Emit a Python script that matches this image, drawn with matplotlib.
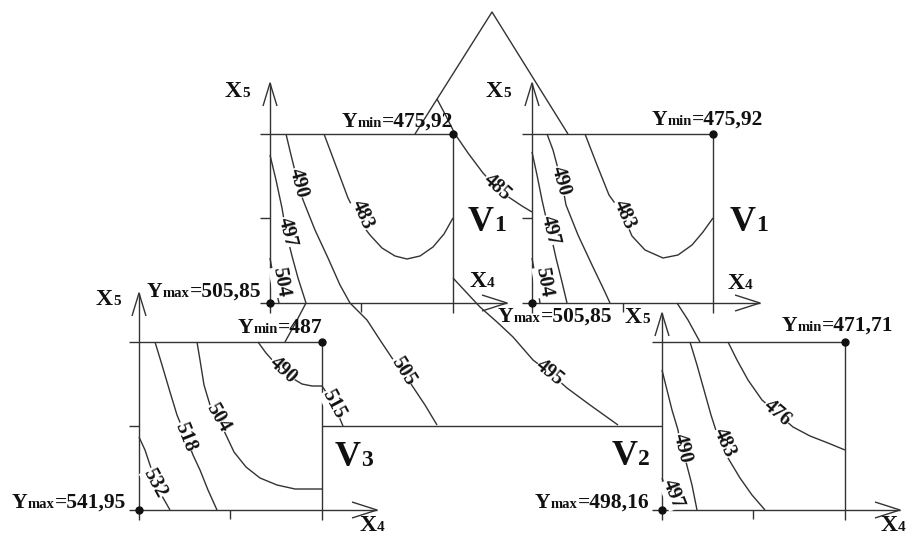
import matplotlib
matplotlib.use("Agg")
import matplotlib.pyplot as plt

# pixel-based coordinates (x right, y down)

# panel values
YMIN_TEXT = ["475,92", "475,92", "487", "471,71"]
YMAX_TEXT = ["505,85", "505,85", "541,95", "498,16"]
PANEL_NAMES = ["1", "1", "3", "2"]

# top-left panel (V1) contour lines
a504 = [(270, 258), (273, 275), (276, 290), (279, 303)]
a497 = [(270, 155), (276, 180), (282, 208), (286, 232), (292, 256), (298, 278),
        (306, 303), (296, 322), (285, 342)]
a490 = [(286, 134), (291, 155), (296, 175), (300, 192), (305, 205), (315, 230),
        (328, 258), (340, 285), (350, 303), (367, 320), (380, 340), (392, 358),
        (403, 372), (413, 387), (425, 405), (437, 425)]
a483 = [(324, 134), (336, 166), (348, 198), (360, 222), (370, 235), (382, 248),
        (395, 256), (407, 259), (420, 256), (433, 247), (444, 234), (453, 218)]
c485 = [(437, 99), (446, 116), (455, 134), (468, 153), (483, 173), (497, 188),
        (510, 198), (522, 206), (532, 212)]
c495 = [(453, 278), (466, 292), (480, 307), (497, 322), (513, 337), (533, 360),
        (550, 373), (567, 388), (590, 405), (618, 425)]

# top-right panel (V1)
b504 = [(532, 258), (535, 275), (538, 290), (540, 303)]
b497 = [(532, 152), (537, 175), (542, 200), (547, 222), (552, 240), (556, 258),
        (562, 282), (567, 303)]
b490 = [(547, 134), (553, 150), (557, 165), (562, 183), (566, 205), (578, 235),
        (592, 265), (604, 290), (610, 303)]
b483 = [(585, 134), (597, 165), (609, 195), (622, 213), (632, 236), (645, 250),
        (663, 258), (678, 255), (692, 245), (703, 232), (713, 218)]
b_link = [(677, 303), (688, 320), (700, 342)]

# bottom-left panel (V3)
v3_490 = [(258, 342), (266, 353), (274, 362), (282, 370), (292, 378), (302, 384),
          (312, 386), (322, 386)]
v3_515 = [(322, 386), (330, 398), (337, 412), (343, 426)]
v3_504 = [(197, 342), (200, 360), (204, 385), (210, 405), (218, 418), (226, 435),
          (234, 452), (246, 467), (260, 478), (277, 485), (295, 489), (322, 489)]
v3_518 = [(155, 342), (162, 365), (170, 392), (177, 415), (186, 437), (193, 455),
          (200, 470), (208, 490), (217, 510)]
v3_532 = [(139, 437), (145, 450), (150, 465), (156, 482), (162, 496), (170, 510)]

# bottom-right panel (V2)
v2_476 = [(728, 342), (737, 360), (748, 380), (762, 400), (777, 413), (793, 427),
          (810, 436), (828, 443), (845, 450)]
v2_483 = [(690, 342), (697, 365), (704, 390), (711, 415), (719, 440), (728, 458),
          (740, 478), (752, 495), (765, 510)]
v2_490 = [(662, 370), (667, 390), (672, 410), (678, 430), (681, 447), (686, 462),
          (692, 485), (697, 510)]
v2_497 = [(662, 478), (668, 494), (674, 510)]

# connecting lines
roof = [(415, 134), (492, 12), (568, 134)]
bridge = [(322, 426), (662, 426)]

FONT = "Liberation Serif"
LC = "#333333"
LW = 1.0

fig = plt.figure(figsize=(9.14, 5.37), dpi=100)
ax = fig.add_axes([0, 0, 1, 1])
ax.set_xlim(0, 914)
ax.set_ylim(537, 0)
ax.axis("off")
renderer = fig.canvas.get_renderer()


def line(pts, **kw):
    xs = [p[0] for p in pts]
    ys = [p[1] for p in pts]
    ax.plot(xs, ys, color=LC, lw=LW, solid_capstyle="butt", **kw)


def rich(x, y, parts):
    # pieces of text on one baseline, each with its own size
    for s, size in parts:
        t = ax.text(x, y, s, fontsize=size, fontweight="bold", family=FONT,
                    va="baseline", ha="left", color="#111111")
        x += t.get_window_extent(renderer=renderer).width


def clabel(x, y, s, rot):
    ax.text(x, y, s, fontsize=14.5, fontweight="bold", family=FONT,
            rotation=rot, ha="center", va="center", color="#111111",
            bbox=dict(fc="white", ec="none", pad=0.2), zorder=5)


def panel(x0, y0, x1, y1, xtip, ytip, xtick, ytick):
    # x0,y0 origin; x1 right edge; y1 top edge
    line([(x0, y0 + 10), (x0, ytip)])
    line([(x0 - 10, y0), (xtip, y0)])
    line([(x0 - 10, y1), (x1, y1)])
    line([(x1, y1), (x1, y0 + 10)])
    line([(x0 - 7, ytip + 23), (x0, ytip), (x0 + 7, ytip + 23)])
    line([(xtip - 25, y0 - 8), (xtip, y0), (xtip - 25, y0 + 8)])
    if ytick is not None:
        line([(x0 - 10, ytick), (x0, ytick)])
    if xtick is not None:
        line([(xtick, y0), (xtick, y0 + 9)])
    ax.plot([x0, x1], [y0, y1], "o", color="#111111", ms=5, zorder=6)


panel(270, 303, 453, 134, 507, 83, 361, 218)
panel(532, 303, 713, 134, 760, 83, 623, 218)
panel(139, 510, 322, 342, 377, 293, 230, 426)
panel(662, 510, 845, 342, 900, 313, 753, None)

for c in [a504, a497, a490, a483, c485, c495, b504, b497, b490, b483, b_link,
          v3_490, v3_515, v3_504, v3_518, v3_532,
          v2_476, v2_483, v2_490, v2_497, roof, bridge]:
    line(c)

# contour labels
clabel(281, 282, "504", -80)
clabel(287, 232, "497", -76)
clabel(298, 183, "490", -75)
clabel(403, 371, "505", -58)
clabel(362, 215, "483", -66)
clabel(497, 187, "485", -42)
clabel(550, 373, "495", -39)
clabel(544, 282, "504", -80)
clabel(550, 230, "497", -76)
clabel(561, 181, "490", -74)
clabel(624, 215, "483", -66)
clabel(283, 370, "490", -42)
clabel(334, 404, "515", -62)
clabel(218, 418, "504", -60)
clabel(185, 437, "518", -68)
clabel(155, 483, "532", -62)
clabel(777, 413, "476", -41)
clabel(724, 443, "483", -66)
clabel(682, 448, "490", -76)
clabel(673, 494, "497", -68)

# axis names
for x, y in [(225, 97), (486, 97), (96, 305), (625, 323)]:
    rich(x, y, [("X", 17), ("5", 11)])
for x, y in [(470, 287), (728, 289), (360, 531), (881, 531)]:
    rich(x, y, [("X", 17), ("4", 11)])

# extreme values
for (x, y), v in zip([(342, 127), (652, 125), (238, 333), (782, 331)], YMIN_TEXT):
    rich(x, y, [("Y", 15.5), ("min", 10.5), ("=" + v, 15.5)])
for (x, y), v in zip([(147, 297), (498, 322), (12, 508), (535, 508)], YMAX_TEXT):
    rich(x, y, [("Y", 15.5), ("max", 10.5), ("=" + v, 15.5)])

# panel names
for (x, y), n in zip([(468, 231), (730, 231), (335, 466), (612, 465)], PANEL_NAMES):
    rich(x, y, [("V", 26), (n, 17)])

fig.savefig("out.png", dpi=100)
